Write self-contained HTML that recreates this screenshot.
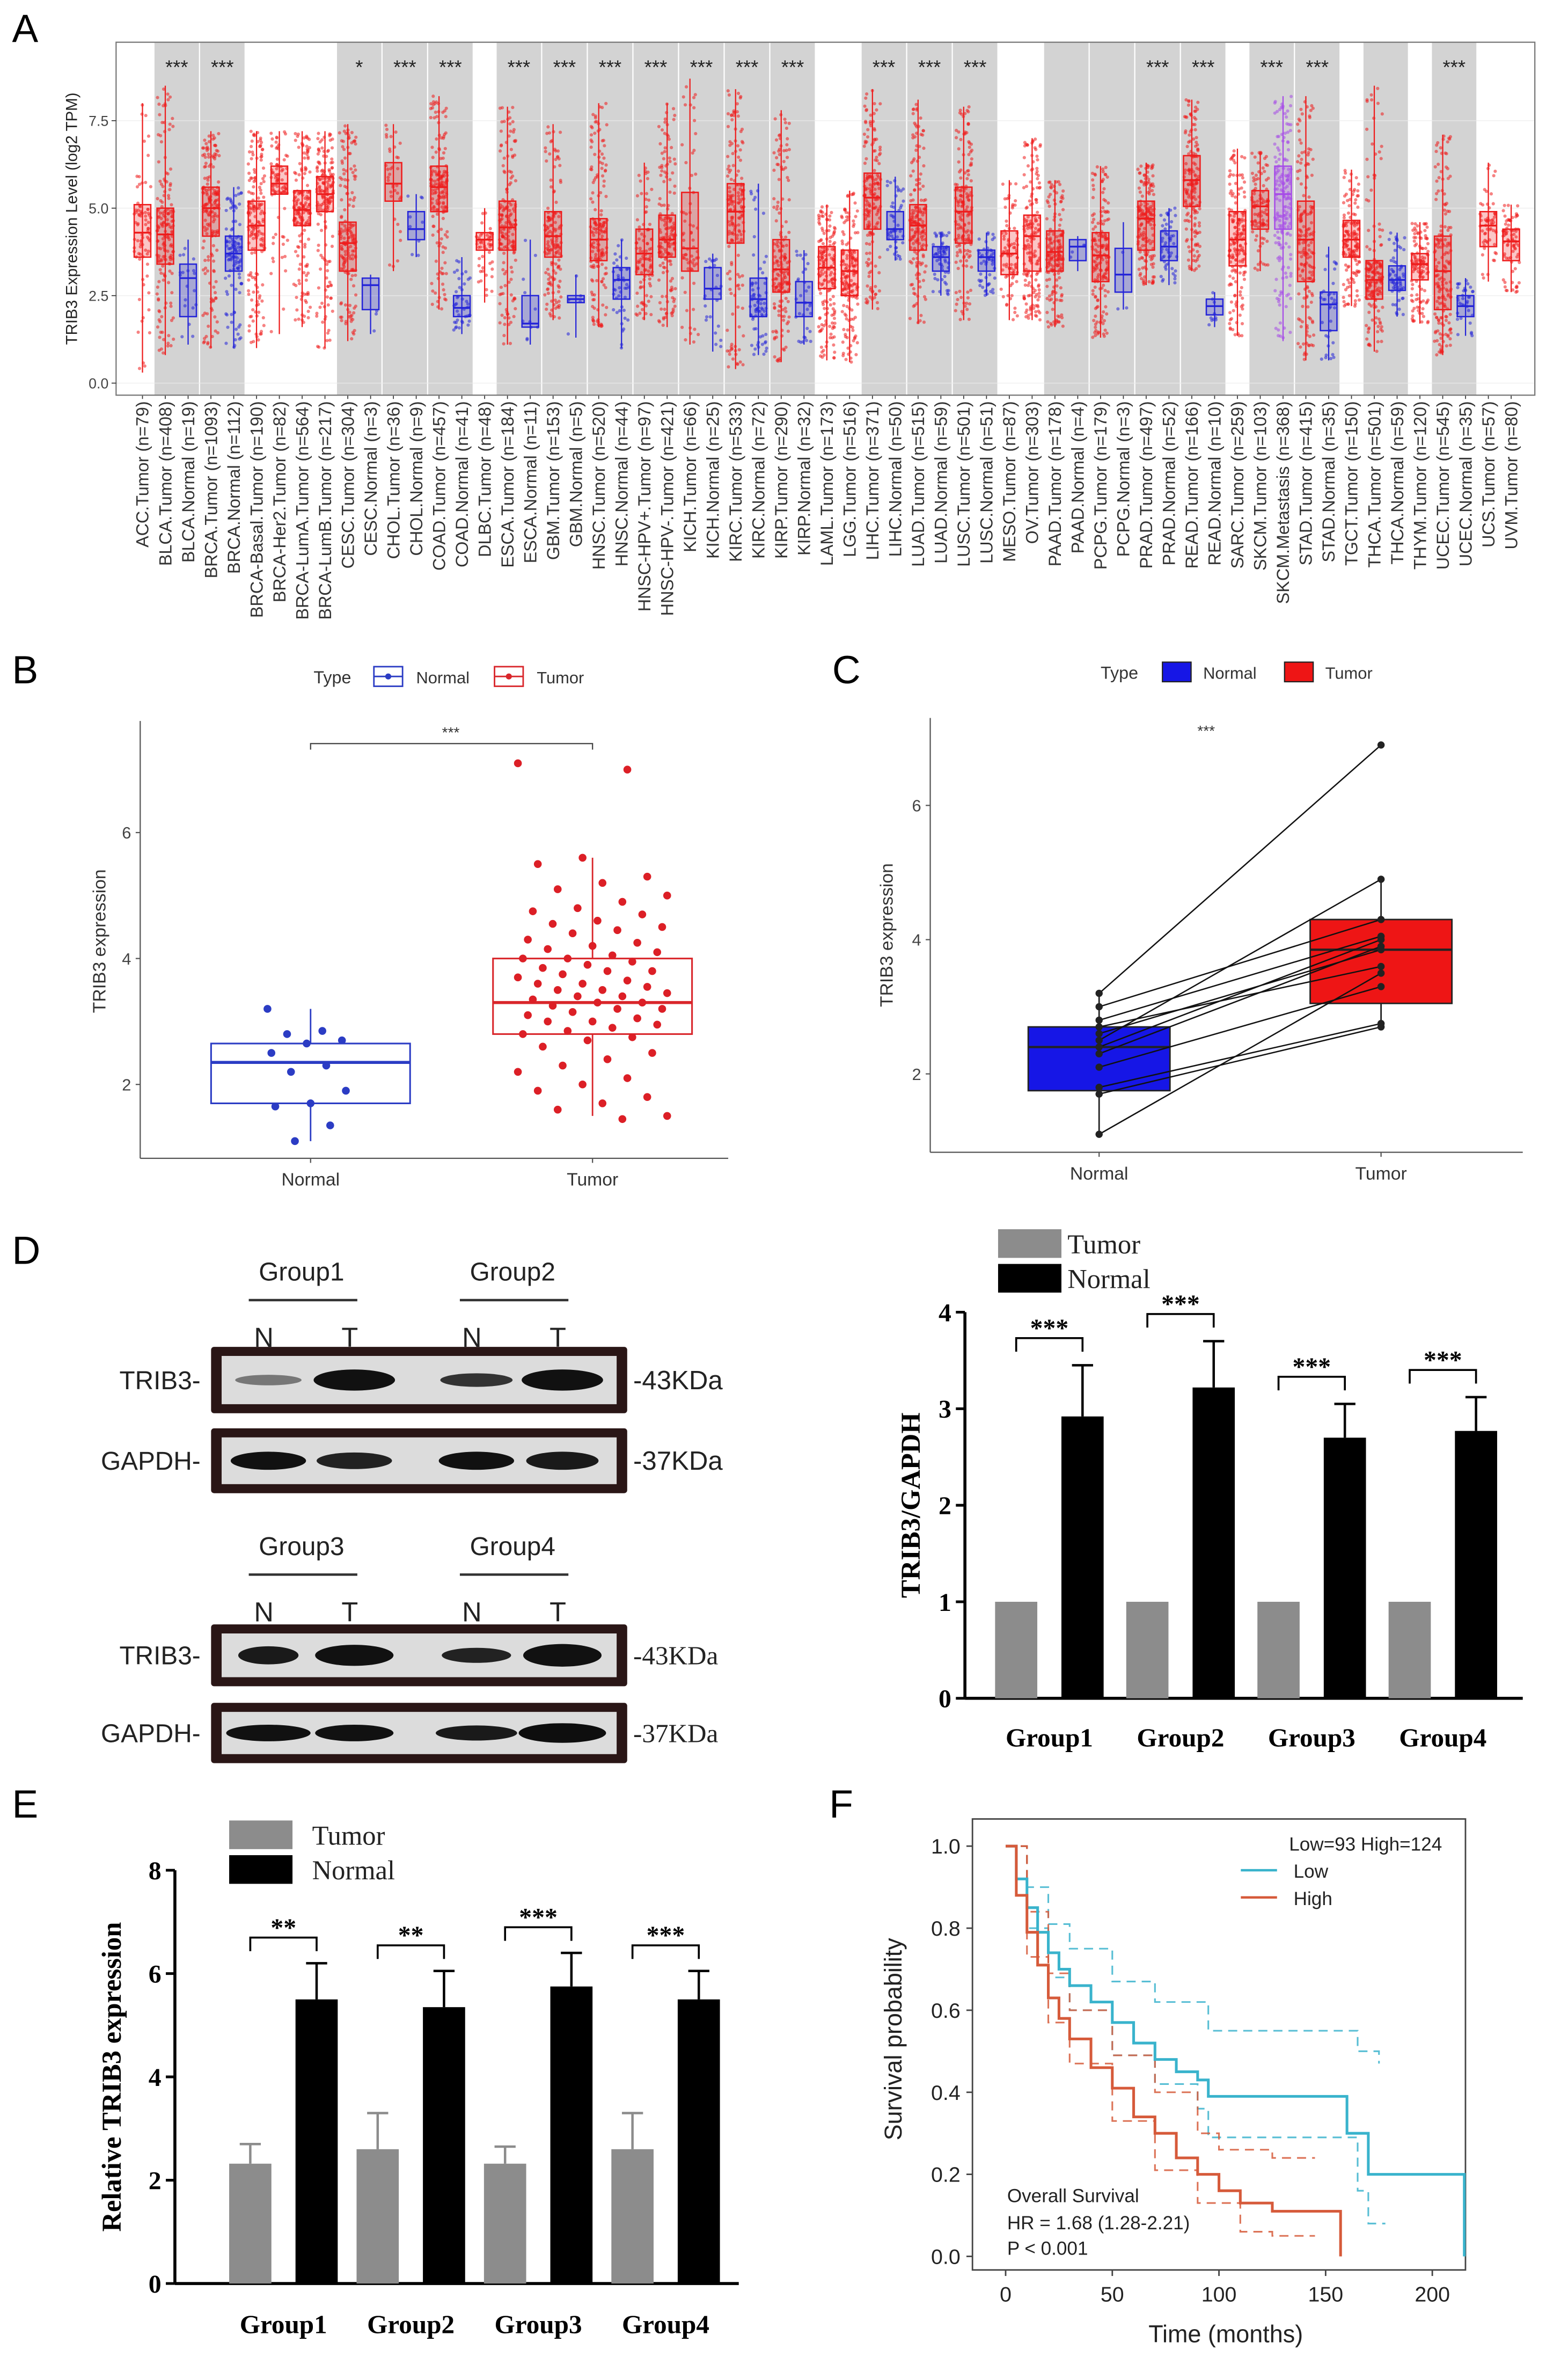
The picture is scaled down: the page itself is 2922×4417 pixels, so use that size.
<!DOCTYPE html>
<html><head><meta charset="utf-8">
<style>
html,body{margin:0;padding:0;background:#fff;}
svg{display:block;}
text{font-family:"Liberation Sans",sans-serif;}
.serif{font-family:"Liberation Serif",serif;font-weight:bold;}
.serifn{font-family:"Liberation Serif",serif;}
</style></head>
<body>
<svg id="fig" xmlns="http://www.w3.org/2000/svg" width="2922" height="4417" viewBox="0 0 1040 1572" preserveAspectRatio="none">
<rect x="0" y="0" width="1040" height="1572" fill="#fff"/>
</svg>
<script>
// ---------- Panel A data ----------
const aNames=["ACC.Tumor (n=79)","BLCA.Tumor (n=408)","BLCA.Normal (n=19)","BRCA.Tumor (n=1093)","BRCA.Normal (n=112)","BRCA-Basal.Tumor (n=190)","BRCA-Her2.Tumor (n=82)","BRCA-LumA.Tumor (n=564)","BRCA-LumB.Tumor (n=217)","CESC.Tumor (n=304)","CESC.Normal (n=3)","CHOL.Tumor (n=36)","CHOL.Normal (n=9)","COAD.Tumor (n=457)","COAD.Normal (n=41)","DLBC.Tumor (n=48)","ESCA.Tumor (n=184)","ESCA.Normal (n=11)","GBM.Tumor (n=153)","GBM.Normal (n=5)","HNSC.Tumor (n=520)","HNSC.Normal (n=44)","HNSC-HPV+.Tumor (n=97)","HNSC-HPV-.Tumor (n=421)","KICH.Tumor (n=66)","KICH.Normal (n=25)","KIRC.Tumor (n=533)","KIRC.Normal (n=72)","KIRP.Tumor (n=290)","KIRP.Normal (n=32)","LAML.Tumor (n=173)","LGG.Tumor (n=516)","LIHC.Tumor (n=371)","LIHC.Normal (n=50)","LUAD.Tumor (n=515)","LUAD.Normal (n=59)","LUSC.Tumor (n=501)","LUSC.Normal (n=51)","MESO.Tumor (n=87)","OV.Tumor (n=303)","PAAD.Tumor (n=178)","PAAD.Normal (n=4)","PCPG.Tumor (n=179)","PCPG.Normal (n=3)","PRAD.Tumor (n=497)","PRAD.Normal (n=52)","READ.Tumor (n=166)","READ.Normal (n=10)","SARC.Tumor (n=259)","SKCM.Tumor (n=103)","SKCM.Metastasis (n=368)","STAD.Tumor (n=415)","STAD.Normal (n=35)","TGCT.Tumor (n=150)","THCA.Tumor (n=501)","THCA.Normal (n=59)","THYM.Tumor (n=120)","UCEC.Tumor (n=545)","UCEC.Normal (n=35)","UCS.Tumor (n=57)","UVM.Tumor (n=80)"];
const aCounts=[79,408,19,1093,112,190,82,564,217,304,3,36,9,457,41,48,184,11,153,5,520,44,97,421,66,25,533,72,290,32,173,516,371,50,515,59,501,51,87,303,178,4,179,3,497,52,166,10,259,103,368,415,35,150,501,59,120,545,35,57,80];
const aMed=[4.3,4.25,3.0,5.0,3.7,4.5,5.7,4.95,5.4,4.0,2.8,5.7,4.4,5.6,2.15,4.1,4.45,1.7,4.2,2.4,4.1,2.95,3.7,4.1,3.85,2.7,4.9,2.4,3.25,2.3,3.3,3.2,5.3,4.4,4.5,3.6,4.9,3.6,3.7,4.2,3.75,3.9,3.65,3.1,4.7,3.9,5.8,2.2,4.1,5.05,5.4,4.1,2.25,4.1,2.95,2.95,3.4,3.2,2.2,4.5,4.05];
const aQ1=[3.6,3.4,1.9,4.2,3.2,3.8,5.4,4.5,4.9,3.2,2.1,5.2,4.1,4.9,1.9,3.8,3.8,1.6,3.6,2.3,3.5,2.4,3.1,3.6,3.2,2.4,4.0,1.9,2.6,1.9,2.7,2.5,4.4,4.1,3.8,3.2,4.0,3.2,3.1,3.2,3.2,3.5,2.9,2.6,3.8,3.5,5.05,1.95,3.35,4.4,4.4,2.9,1.5,3.6,2.4,2.65,2.95,2.1,1.9,3.9,3.5];
const aQ3=[5.1,5.0,3.4,5.6,4.2,5.2,6.2,5.5,5.9,4.6,3.0,6.3,4.9,6.2,2.5,4.3,5.2,2.5,4.9,2.5,4.7,3.3,4.4,4.8,5.45,3.3,5.7,3.0,4.1,2.9,3.9,3.8,6.0,4.9,5.1,3.9,5.6,3.8,4.35,4.8,4.35,4.1,4.3,3.85,5.2,4.35,6.5,2.4,4.9,5.5,6.2,5.2,2.6,4.65,3.5,3.35,3.7,4.2,2.5,4.9,4.4];
const aLo=[0.3,0.8,1.1,1.0,1.0,1.0,1.4,1.6,1.0,1.2,1.4,3.2,3.6,2.1,1.4,2.3,1.1,1.1,1.8,1.3,1.6,1.0,1.8,1.6,1.1,0.9,0.4,0.8,0.6,1.1,0.65,0.6,2.1,3.5,1.7,2.5,1.8,2.5,1.8,1.8,1.6,3.2,1.3,2.1,2.8,2.8,3.2,1.6,1.35,3.2,1.2,0.65,0.65,2.2,0.9,1.9,1.7,0.8,1.35,2.9,2.6];
const aHi=[8.0,8.5,4.1,7.2,5.6,7.2,7.2,7.2,7.2,7.4,3.1,7.4,5.4,8.2,3.6,5.0,7.9,4.1,7.4,3.1,8.0,4.1,6.3,8.0,8.7,3.7,8.4,5.7,7.8,3.8,5.1,5.5,8.4,5.9,8.1,4.3,7.9,4.3,5.8,7.0,5.8,4.2,6.2,4.6,6.3,5.0,8.1,2.6,6.7,6.6,8.2,8.2,3.9,6.1,8.5,4.3,4.6,7.1,3.0,6.3,5.1];
const aYTicks=[0,2.5,5,7.5];
const aYLabels=["0.0","2.5","5.0","7.5"];
const aGroups=[[0,0,0,""],[1,2,1,"***"],[3,4,1,"***"],[5,8,0,""],[9,10,1,"*"],[11,12,1,"***"],[13,14,1,"***"],[15,15,0,""],[16,17,1,"***"],[18,19,1,"***"],[20,21,1,"***"],[22,23,1,"***"],[24,25,1,"***"],[26,27,1,"***"],[28,29,1,"***"],[30,31,0,""],[32,33,1,"***"],[34,35,1,"***"],[36,37,1,"***"],[38,39,0,""],[40,41,1,""],[42,43,1,""],[44,45,1,"***"],[46,47,1,"***"],[48,48,0,""],[49,50,1,"***"],[51,52,1,"***"],[53,53,0,""],[54,55,1,""],[56,56,0,""],[57,58,1,"***"],[59,60,0,""]];

// ---------- Panel B data ----------
const bNormal=[3.2,2.85,2.8,2.7,2.65,2.5,2.3,2.2,1.9,1.7,1.65,1.35,1.1];
const bTumor=[7.1,7.0,5.6,5.5,5.3,5.2,5.1,5.0,4.9,4.8,4.75,4.7,4.6,4.55,4.5,4.45,4.4,4.3,4.25,4.2,4.15,4.1,4.05,4.0,4.0,3.95,3.9,3.85,3.8,3.8,3.75,3.7,3.65,3.6,3.6,3.55,3.5,3.5,3.45,3.4,3.4,3.35,3.3,3.3,3.25,3.2,3.2,3.15,3.1,3.05,3.0,3.0,2.95,2.9,2.85,2.8,2.75,2.7,2.6,2.5,2.4,2.3,2.2,2.1,2.0,1.9,1.8,1.7,1.6,1.5,1.45];
const bBoxN=[1.1,1.7,2.35,2.65,3.2];
const bBoxT=[1.5,2.8,3.3,4.0,5.6];
const bTicks=[2,4,6];

// ---------- Panel C data ----------
const cNormal=[1.1,1.7,1.8,2.1,2.3,2.4,2.5,2.6,2.7,2.8,3.0,3.2];
const cTumor=[3.5,2.7,2.75,3.3,3.9,4.0,4.9,3.85,3.6,4.05,4.3,6.9];
const cBoxN=[1.1,1.75,2.4,2.7,3.2];
const cBoxT=[2.7,3.05,3.85,4.3,4.9];
const cTicks=[2,4,6];

// ---------- Panel D bar data ----------
const dGroups=["Group1","Group2","Group3","Group4"];
const dTumor=[1,1,1,1];
const dNormal=[2.92,3.22,2.7,2.77];
const dNormalErr=[0.53,0.48,0.35,0.35];
const dStars=["***","***","***","***"];
const dTicks=[0,1,2,3,4];

// ---------- Panel E data ----------
const eGroups=["Group1","Group2","Group3","Group4"];
const eTumor=[2.32,2.6,2.32,2.6];
const eTumorErr=[0.38,0.7,0.33,0.7];
const eNormal=[5.5,5.35,5.75,5.5];
const eNormalErr=[0.7,0.7,0.65,0.55];
const eStars=["**","**","***","***"];
const eTicks=[0,2,4,6,8];

// ---------- Panel F data ----------
const fLowT=[0,5,10,15,20,25,30,40,50,60,70,80,90,95,155,160,170,215];
const fLowS=[1,0.92,0.85,0.79,0.74,0.7,0.66,0.62,0.57,0.52,0.48,0.45,0.43,0.39,0.39,0.3,0.2,0.2];
const fHighT=[0,5,10,15,20,25,30,40,50,60,70,80,90,100,110,125,157];
const fHighS=[1,0.88,0.79,0.71,0.63,0.58,0.53,0.46,0.41,0.34,0.3,0.24,0.2,0.16,0.13,0.11,0.11];
const fLowUpT=[0,10,20,30,50,70,95,155,165,175];
const fLowUpS=[1,0.9,0.81,0.75,0.67,0.62,0.55,0.55,0.5,0.47];
const fLowLoT=[0,10,20,30,50,70,90,95,160,165,170,178];
const fLowLoS=[1,0.8,0.68,0.6,0.49,0.42,0.36,0.29,0.29,0.16,0.08,0.08];
const fHighUpT=[0,10,20,30,50,70,90,100,125,145];
const fHighUpS=[1,0.84,0.69,0.6,0.49,0.4,0.3,0.26,0.24,0.24];
const fHighLoT=[0,10,20,30,50,70,90,110,125,145];
const fHighLoS=[1,0.73,0.57,0.47,0.33,0.21,0.13,0.06,0.05,0.05];
const fXTicks=[0,50,100,150,200];
const fYTicks=[0,0.2,0.4,0.6,0.8,1.0];
const fYLabels=["0.0","0.2","0.4","0.6","0.8","1.0"];

const NS="http://www.w3.org/2000/svg";
const svg=document.getElementById('fig');
function mk(tag,attrs,parent){const e=document.createElementNS(NS,tag);for(const k in attrs)e.setAttribute(k,attrs[k]);(parent||svg).appendChild(e);return e;}
function txt(x,y,s,attrs,parent){const e=mk('text',Object.assign({x:x,y:y},attrs||{}),parent);e.textContent=s;return e;}
function grp(parent){return mk('g',{},parent);}

[["A",8,28],["B",8,453],["C",552,453],["D",8,838],["E",8,1205],["F",550,1205]].forEach(p=>{
  const t=txt(p[1],p[2],p[0],{'font-size':26});
  
  
});

// ===== Panel A =====
(function(){
  const g=grp();
  
  
  const L=77,R=1018,T=28,B=262;
  const xA=i=>94.5+i*15.13;
  const yA=v=>254-v*23.2;
  const bg=mk('rect',{x:L,y:T,width:R-L,height:B-T,fill:'#fff'},g);
  
  
  aGroups.forEach(gr=>{
    if(gr[2]){
      const x0=xA(gr[0]-0.5)+0.4,x1=xA(gr[1]+0.5)-0.4;
      const r=mk('rect',{x:x0,y:T,width:x1-x0,height:B-T,fill:'#d3d3d3'},g);
      
      
    }
  });
  aYTicks.forEach(v=>{mk('line',{x1:L,x2:R,y1:yA(v),y2:yA(v),stroke:'#ececec','stroke-width':0.6,opacity:0.7},g);});
  let seed=12345;
  function rnd(){seed=(seed*1103515245+12345)%2147483648;return seed/2147483648;}
  aNames.forEach((n,i)=>{
    const typ=n.indexOf('Normal')>=0?'N':(n.indexOf('Metastasis')>=0?'M':'T');
    const col=typ==='T'?'#ee1c1c':(typ==='N'?'#2424d8':'#a64ae8');
    const q=[aLo[i],aQ1[i],aMed[i],aQ3[i],aHi[i]];
    const cnt=Math.min(aCounts[i],170);
    const pg=grp(g);
    
    
    for(let k=0;k<cnt;k++){
      const u=rnd();const s=u*4;const j=Math.min(3,Math.floor(s));const f=s-j;
      const v=q[j]+(q[j+1]-q[j])*f;
      const dx=(rnd()-0.5)*11;
      mk('circle',{cx:xA(i)+dx,cy:yA(v),r:1.1,fill:col,opacity:0.55},pg);
    }
    const bx=grp(g);
    
    
    const x=xA(i),w=5.5;
    mk('line',{x1:x,x2:x,y1:yA(aLo[i]),y2:yA(aHi[i]),stroke:col,'stroke-width':0.8},bx);
    mk('rect',{x:x-w,y:yA(aQ3[i]),width:2*w,height:yA(aQ1[i])-yA(aQ3[i]),fill:col,'fill-opacity':0.25,stroke:col,'stroke-width':0.9},bx);
    mk('line',{x1:x-w,x2:x+w,y1:yA(aMed[i]),y2:yA(aMed[i]),stroke:col,'stroke-width':1.2},bx);
    const lb=txt(0,0,n,{'font-size':11.5,fill:'#333','text-anchor':'end',transform:`translate(${x+4},${B+4}) rotate(-90)`},g);
    
    
    mk('line',{x1:x,x2:x,y1:B,y2:B+2.5,stroke:'#333','stroke-width':0.6},g);
  });
  aGroups.forEach(gr=>{
    if(gr[3]){
      const cx=(xA(gr[0])+xA(gr[1]))/2;
      const s=txt(cx,49,gr[3],{'font-size':13,'text-anchor':'middle',fill:'#222'},g);
      
      
    }
  });
  const fr=mk('rect',{x:L,y:T,width:R-L,height:B-T,fill:'none',stroke:'#777','stroke-width':0.8},g);
  
  
  aYTicks.forEach((v,k)=>{
    mk('line',{x1:L-3,x2:L,y1:yA(v),y2:yA(v),stroke:'#333','stroke-width':0.6},g);
    const t=txt(L-5,yA(v)+3.5,aYLabels[k],{'font-size':9.5,fill:'#444','text-anchor':'end'},g);
    
    
  });
  const yt=txt(0,0,"TRIB3 Expression Level (log2 TPM)",{'font-size':10.5,fill:'#222','text-anchor':'middle',transform:'translate(51,145) rotate(-90)'},g);
  
  
})();

// ===== Panel B =====
(function(){
  const g=grp();
  
  
  const L=93,R=483,T=478,B=768;
  const yB=v=>719-(v-2)*41.75;
  const xN=206,xT=393;
  mk('line',{x1:L,x2:L,y1:T,y2:B,stroke:'#555','stroke-width':0.8},g);
  mk('line',{x1:L,x2:R,y1:B,y2:B,stroke:'#555','stroke-width':0.8},g);
  bTicks.forEach(v=>{
    mk('line',{x1:L-3,x2:L,y1:yB(v),y2:yB(v),stroke:'#555','stroke-width':0.8},g);
    const t=txt(L-6,yB(v)+4,String(v),{'font-size':11,fill:'#444','text-anchor':'end'},g);
    
    
  });
  [[xN,"Normal"],[xT,"Tumor"]].forEach(p=>{
    mk('line',{x1:p[0],x2:p[0],y1:B,y2:B+3,stroke:'#555','stroke-width':0.8},g);
    const t=txt(p[0],B+18,p[1],{'font-size':12,fill:'#333','text-anchor':'middle'},g);
    
    
  });
  const yt=txt(0,0,"TRIB3 expression",{'font-size':12,fill:'#333','text-anchor':'middle',transform:'translate(70,624) rotate(-90)'},g);
  
  
  function box(x,b,col,name){
    const bg=grp(g);
    
    
    const w=66;
    mk('line',{x1:x,x2:x,y1:yB(b[0]),y2:yB(b[1]),stroke:col,'stroke-width':1},bg);
    mk('line',{x1:x,x2:x,y1:yB(b[3]),y2:yB(b[4]),stroke:col,'stroke-width':1},bg);
    mk('rect',{x:x-w,y:yB(b[3]),width:2*w,height:yB(b[1])-yB(b[3]),fill:'none',stroke:col,'stroke-width':1.1},bg);
    mk('line',{x1:x-w,x2:x+w,y1:yB(b[2]),y2:yB(b[2]),stroke:col,'stroke-width':2},bg);
  }
  box(xN,bBoxN,'#2b3cc4','box-normal');
  box(xT,bBoxT,'#d9262b','box-tumor');
  bNormal.forEach((v,k)=>{
    const c=mk('circle',{cx:xN+(((k*37)%23)-11)*2.6,cy:yB(v),r:2.6,fill:'#2b3cc4'},g);
    
    
  });
  bTumor.forEach((v,k)=>{
    const c=mk('circle',{cx:xT+(((k*53)%31)-15)*3.3,cy:yB(v),r:2.6,fill:'#dc1f26'},g);
    
    
  });
  mk('path',{d:`M${xN},497 V493 H${xT} V497`,fill:'none',stroke:'#444','stroke-width':0.8},g);
  const st=txt(299,489,"***",{'font-size':10,'text-anchor':'middle',fill:'#333'},g);
  
  
  const lg=grp(g);
  
  
  txt(208,453,"Type",{'font-size':11.5,fill:'#333'},lg);
  mk('rect',{x:248,y:442,width:19,height:13,fill:'none',stroke:'#2b3cc4','stroke-width':1},lg);
  mk('line',{x1:248,x2:267,y1:448.5,y2:448.5,stroke:'#2b3cc4'},lg);
  mk('circle',{cx:257.5,cy:448.5,r:2,fill:'#2b3cc4'},lg);
  txt(276,453,"Normal",{'font-size':11,fill:'#333'},lg);
  mk('rect',{x:328,y:442,width:19,height:13,fill:'none',stroke:'#d9262b','stroke-width':1},lg);
  mk('line',{x1:328,x2:347,y1:448.5,y2:448.5,stroke:'#d9262b'},lg);
  mk('circle',{cx:337.5,cy:448.5,r:2,fill:'#d9262b'},lg);
  txt(356,453,"Tumor",{'font-size':11,fill:'#333'},lg);
})();

// ===== Panel C =====
(function(){
  const g=grp();
  
  
  const L=617,R=1010,T=476,B=764;
  const yC=v=>712-(v-2)*44.5;
  const xN=729,xT=916;
  mk('line',{x1:L,x2:L,y1:T,y2:B,stroke:'#555','stroke-width':0.8},g);
  mk('line',{x1:L,x2:R,y1:B,y2:B,stroke:'#555','stroke-width':0.8},g);
  cTicks.forEach(v=>{
    mk('line',{x1:L-3,x2:L,y1:yC(v),y2:yC(v),stroke:'#555','stroke-width':0.8},g);
    const t=txt(L-6,yC(v)+4,String(v),{'font-size':11,fill:'#444','text-anchor':'end'},g);
    
    
  });
  [[xN,"Normal"],[xT,"Tumor"]].forEach(p=>{
    mk('line',{x1:p[0],x2:p[0],y1:B,y2:B+3,stroke:'#555','stroke-width':0.8},g);
    const t=txt(p[0],B+18,p[1],{'font-size':12,fill:'#333','text-anchor':'middle'},g);
    
    
  });
  const yt=txt(0,0,"TRIB3 expression",{'font-size':12,fill:'#333','text-anchor':'middle',transform:'translate(592,620) rotate(-90)'},g);
  
  
  function box(x,b,col,name){
    const bg=grp(g);
    
    
    const w=47;
    mk('line',{x1:x,x2:x,y1:yC(b[0]),y2:yC(b[4]),stroke:'#222','stroke-width':1},bg);
    mk('rect',{x:x-w,y:yC(b[3]),width:2*w,height:yC(b[1])-yC(b[3]),fill:col,stroke:'#222','stroke-width':1},bg);
    mk('line',{x1:x-w,x2:x+w,y1:yC(b[2]),y2:yC(b[2]),stroke:'#222','stroke-width':1.5},bg);
  }
  box(xN,cBoxN,'#1616e6','box-normal');
  box(xT,cBoxT,'#ee1515','box-tumor');
  cNormal.forEach((v,k)=>{
    const l=mk('line',{x1:xN,y1:yC(v),x2:xT,y2:yC(cTumor[k]),stroke:'#111','stroke-width':0.9},g);
    
    
    mk('circle',{cx:xN,cy:yC(v),r:2.4,fill:'#222'},g);
    mk('circle',{cx:xT,cy:yC(cTumor[k]),r:2.4,fill:'#222'},g);
  });
  const st=txt(800,488,"***",{'font-size':10,'text-anchor':'middle',fill:'#333'},g);
  
  
  const lg=grp(g);
  
  
  txt(730,450,"Type",{'font-size':11.5,fill:'#333'},lg);
  mk('rect',{x:771,y:439,width:19,height:13,fill:'#1616e6',stroke:'#222','stroke-width':0.8},lg);
  txt(798,450,"Normal",{'font-size':11,fill:'#333'},lg);
  mk('rect',{x:852,y:439,width:19,height:13,fill:'#ee1515',stroke:'#222','stroke-width':0.8},lg);
  txt(879,450,"Tumor",{'font-size':11,fill:'#333'},lg);
})();

// ===== Panel D blots =====
(function(){
  const g=grp();
  
  
  const lanes=[175,232,313,370];
  function header(y,a,b){
    [[200,a,165,237],[340,b,305,377]].forEach(p=>{
      const t=txt(p[0],y,p[1],{'font-size':17,'text-anchor':'middle',fill:'#222'},g);
      
      
      mk('line',{x1:p[2],x2:p[3],y1:y+13,y2:y+13,stroke:'#333','stroke-width':1.6},g);
    });
    ["N","T","N","T"].forEach((s,k)=>{
      const t=txt(lanes[k],y+44,s,{'font-size':18,'text-anchor':'middle',fill:'#222'},g);
      
      
    });
  }
  function blot(y,h,label,kda,bands,name,serifKda){
    const b=grp(g);
    
    
    mk('rect',{x:140,y:y,width:276,height:h,fill:'#2a1616',rx:2},b);
    mk('rect',{x:147,y:y+6,width:262,height:h-12,fill:'#dcdcdc'},b);
    bands.forEach((bd,k)=>{
      mk('ellipse',{cx:lanes[k]+3,cy:y+h/2,rx:bd[0],ry:bd[1],fill:bd[2]},b);
    });
    const t1=txt(133,y+h/2+6,label,{'font-size':17,'text-anchor':'end',fill:'#222'},g);
    
    
    const t2=txt(420,y+h/2+6,kda,{'font-size':17.5,fill:'#222',class:serifKda?'serifn':''},g);
    
    
  }
  header(849,"Group1","Group2");
  blot(893,44,"TRIB3-","-43KDa",[[22,3.5,'#777'],[27,7,'#111'],[24,4.5,'#333'],[27,7,'#111']],'blot-trib3-upper',false);
  blot(947,43,"GAPDH-","-37KDa",[[25,6,'#111'],[25,5.5,'#222'],[25,6,'#111'],[24,6,'#1a1a1a']],'blot-gapdh-upper',false);
  header(1031,"Group3","Group4");
  blot(1077,41,"TRIB3-","-43KDa",[[20,6,'#1a1a1a'],[26,7,'#111'],[23,5,'#222'],[26,7.5,'#111']],'blot-trib3-lower',true);
  blot(1129,40,"GAPDH-","-37KDa",[[28,5.5,'#111'],[26,5.5,'#111'],[27,5,'#1a1a1a'],[29,6.5,'#0e0e0e']],'blot-gapdh-lower',true);
})();

// ===== Bar chart helper =====
function barChart(cfg){
  const g=grp();
  
  
  const yv=v=>cfg.y0-(v/cfg.max)*(cfg.y0-cfg.yTop);
  mk('line',{x1:cfg.axX,x2:cfg.axX,y1:cfg.yTop,y2:cfg.y0,stroke:'#000','stroke-width':2},g);
  mk('line',{x1:cfg.axX,x2:cfg.axR,y1:cfg.y0,y2:cfg.y0,stroke:'#000','stroke-width':2},g);
  cfg.ticks.forEach(v=>{
    mk('line',{x1:cfg.axX-6,x2:cfg.axX,y1:yv(v),y2:yv(v),stroke:'#000','stroke-width':1.8},g);
    const t=txt(cfg.axX-9,yv(v)+6,String(v),{'font-size':17,'text-anchor':'end',class:'serif'},g);
    
    
  });
  const yt=txt(0,0,cfg.ytitle,{'font-size':18,'text-anchor':'middle',class:'serif',transform:`translate(${cfg.ytX},${(cfg.yTop+cfg.y0)/2}) rotate(-90)`},g);
  
  
  const bw=28;
  cfg.groups.forEach((gn,i)=>{
    const cx=cfg.gx0+i*cfg.gStep;
    const xg=cx-22,xb=cx+22;
    const r1=mk('rect',{x:xg-bw/2,y:yv(cfg.tumor[i]),width:bw,height:cfg.y0-yv(cfg.tumor[i]),fill:'#8c8c8c'},g);
    
    
    if(cfg.tumorErr){
      const e=cfg.tumor[i]+cfg.tumorErr[i];
      mk('line',{x1:xg,x2:xg,y1:yv(cfg.tumor[i]),y2:yv(e),stroke:'#8c8c8c','stroke-width':1.6},g);
      mk('line',{x1:xg-7,x2:xg+7,y1:yv(e),y2:yv(e),stroke:'#8c8c8c','stroke-width':1.6},g);
    }
    const r2=mk('rect',{x:xb-bw/2,y:yv(cfg.normal[i]),width:bw,height:cfg.y0-yv(cfg.normal[i]),fill:'#000'},g);
    
    
    const e2=cfg.normal[i]+cfg.normalErr[i];
    mk('line',{x1:xb,x2:xb,y1:yv(cfg.normal[i]),y2:yv(e2),stroke:'#000','stroke-width':1.6},g);
    mk('line',{x1:xb-7,x2:xb+7,y1:yv(e2),y2:yv(e2),stroke:'#000','stroke-width':1.6},g);
    const by=yv(e2)-cfg.bracketGap;
    mk('path',{d:`M${xg},${by+9} V${by} H${xb} V${by+9}`,fill:'none',stroke:'#000','stroke-width':1.3},g);
    const st=txt(cx,by-1,cfg.stars[i],{'font-size':17,'text-anchor':'middle',class:'serif'},g);
    
    
    const xl=txt(cx,cfg.y0+cfg.xlabOff,gn,{'font-size':17.5,'text-anchor':'middle',class:'serif'},g);
    
    
  });
  const lg=grp(g);
  
  
  mk('rect',{x:cfg.legX,y:cfg.legY,width:42,height:19,fill:'#8c8c8c'},lg);
  txt(cfg.legX+cfg.legTxt,cfg.legY+16,"Tumor",{'font-size':18,fill:'#222',class:'serifn'},lg);
  mk('rect',{x:cfg.legX,y:cfg.legY+23,width:42,height:19,fill:'#000'},lg);
  txt(cfg.legX+cfg.legTxt,cfg.legY+39,"Normal",{'font-size':18,fill:'#222',class:'serifn'},lg);
}
barChart({name:'panel-d-bar-chart',axX:640,axR:1010,yTop:870,y0:1126,max:4,ticks:dTicks,ytitle:'TRIB3/GAPDH',ytX:610,
  groups:dGroups,tumor:dTumor,normal:dNormal,normalErr:dNormalErr,stars:dStars,gx0:696,gStep:87,bracketGap:18,xlabOff:32,legX:662,legY:815,legTxt:46});
barChart({name:'panel-e-bar-chart',axX:116,axR:490,yTop:1240,y0:1514,max:8,ticks:eTicks,ytitle:'Relative TRIB3 expression',ytX:80,
  groups:eGroups,tumor:eTumor,tumorErr:eTumorErr,normal:eNormal,normalErr:eNormalErr,stars:eStars,gx0:188,gStep:84.5,bracketGap:17,xlabOff:33,legX:152,legY:1207,legTxt:55});

// ===== Panel F =====
(function(){
  const g=grp();
  
  
  const L=645,R=972,T=1206,B=1505;
  const xF=t=>667+t*1.415;
  const yF=s=>1496-s*272;
  const fr=mk('rect',{x:L,y:T,width:R-L,height:B-T,fill:'none',stroke:'#444','stroke-width':1},g);
  
  
  fXTicks.forEach(v=>{
    mk('line',{x1:xF(v),x2:xF(v),y1:B,y2:B+4,stroke:'#444'},g);
    const t=txt(xF(v),B+21,String(v),{'font-size':14,'text-anchor':'middle',fill:'#222'},g);
    
    
  });
  fYTicks.forEach((v,k)=>{
    mk('line',{x1:L-4,x2:L,y1:yF(v),y2:yF(v),stroke:'#444'},g);
    const t=txt(L-8,yF(v)+5,fYLabels[k],{'font-size':14,'text-anchor':'end',fill:'#222'},g);
    
    
  });
  const xt=txt(813,1553,"Time (months)",{'font-size':16,'text-anchor':'middle',fill:'#222'},g);
  
  
  const yt=txt(0,0,"Survival probability",{'font-size':16,'text-anchor':'middle',fill:'#222',transform:'translate(598,1352) rotate(-90)'},g);
  
  
  function step(ts,ss,endZero){
    let d=`M${xF(ts[0])},${yF(ss[0])}`;
    for(let i=1;i<ts.length;i++){d+=` H${xF(ts[i])} V${yF(ss[i])}`;}
    if(endZero)d+=` V${yF(0)}`;
    return d;
  }
  const cL='#39b3cc',cH='#d65a3a';
  [[fLowUpT,fLowUpS,cL,'ci-low-upper'],[fLowLoT,fLowLoS,cL,'ci-low-lower'],[fHighUpT,fHighUpS,cH,'ci-high-upper'],[fHighLoT,fHighLoS,cH,'ci-high-lower']].forEach(c=>{
    const p=mk('path',{d:step(c[0],c[1],false),fill:'none',stroke:c[2],'stroke-width':1.1,'stroke-dasharray':'6,4',opacity:0.85},g);
    
    
  });
  const pl=mk('path',{d:step(fLowT,fLowS,true),fill:'none',stroke:cL,'stroke-width':1.8},g);
  
  
  const ph=mk('path',{d:step(fHighT,fHighS,true),fill:'none',stroke:cH,'stroke-width':1.8},g);
  
  
  const lg=grp(g);
  
  
  txt(855,1227,"Low=93 High=124",{'font-size':12.5,fill:'#222'},lg);
  mk('line',{x1:823,x2:847,y1:1240,y2:1240,stroke:cL,'stroke-width':1.6},lg);
  txt(858,1245,"Low",{'font-size':12.5,fill:'#222'},lg);
  mk('line',{x1:823,x2:847,y1:1258,y2:1258,stroke:cH,'stroke-width':1.6},lg);
  txt(858,1263,"High",{'font-size':12.5,fill:'#222'},lg);
  const an=grp(g);
  
  
  txt(668,1460,"Overall Survival",{'font-size':12.5,fill:'#222'},an);
  txt(668,1478,"HR = 1.68 (1.28-2.21)",{'font-size':12.5,fill:'#222'},an);
  txt(668,1495,"P < 0.001",{'font-size':12.5,fill:'#222'},an);
})();
</script>
</body></html>
